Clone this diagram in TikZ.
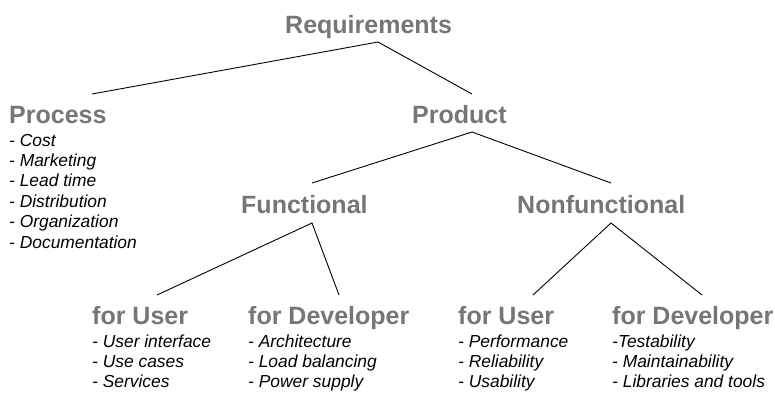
\documentclass[tikz,border=0pt]{standalone}
\usepackage{fontspec}
\setmainfont{Liberation Sans}
\definecolor{head}{HTML}{767676}
\tikzset{
  heading/.style={anchor=base west,inner sep=0pt,text=head,font=\fontsize{25}{30}\selectfont\bfseries},
  entry/.style={anchor=base west,inner sep=0pt,font=\fontsize{17.4}{20}\selectfont\itshape},
  branch/.style={draw=black,line width=0.9pt}
}
\begin{document}
\begin{tikzpicture}[x=1pt,y=-1pt]
  \useasboundingbox (0,0) rectangle (775,392);
  % headings
  \node[heading] (req) at (285,33) {Requirements};
  \node[heading] (proc) at (9,123) {Process};
  \node[heading] (prod) at (412,123) {Product};
  \node[heading] (func) at (241,213) {Functional};
  \node[heading] (nonf) at (517,213) {Nonfunctional};
  \node[heading] (fuU) at (92,324) {for User};
  \node[heading] (fuD) at (248,324) {for Developer};
  \node[heading] (nfU) at (458,324) {for User};
  \node[heading] (nfD) at (612,324) {for Developer};
  % item lists
  \foreach \t [count=\i] in {- Cost,- Marketing,- Lead time,- Distribution,- Organization,- Documentation}
    \node[entry] (proc-\i) at (9,{146+20.4*(\i-1)}) {\t};
  \foreach \t [count=\i] in {- User interface,- Use cases,- Services}
    \node[entry] (fuU-\i) at (92,{347+20*(\i-1)}) {\t};
  \foreach \t [count=\i] in {- Architecture,- Load balancing,- Power supply}
    \node[entry] (fuD-\i) at (248,{347+20*(\i-1)}) {\t};
  \foreach \t [count=\i] in {- Performance,- Reliability,- Usability}
    \node[entry] (nfU-\i) at (458,{347+20*(\i-1)}) {\t};
  \foreach \t [count=\i] in {-Testability,- Maintainability,- Libraries and tools}
    \node[entry] (nfD-\i) at (612,{347+20*(\i-1)}) {\t};
  % branch points
  \coordinate (reqJ) at (378,42);
  \coordinate (procT) at (92,94);
  \coordinate (prodT) at (472,94);
  \coordinate (prodJ) at (472,132);
  \coordinate (funcT) at (312,183);
  \coordinate (nonfT) at (611,183);
  \coordinate (funcJ) at (312,223);
  \coordinate (nonfJ) at (611,223);
  \coordinate (fuUT) at (157,295);
  \coordinate (fuDT) at (339,295);
  \coordinate (nfUT) at (533,295);
  \coordinate (nfDT) at (702,295);
  % tree
  \draw[branch] (procT) -- (reqJ) -- (prodT);
  \draw[branch] (funcT) -- (prodJ) -- (nonfT);
  \draw[branch] (fuUT) -- (funcJ) -- (fuDT);
  \draw[branch] (nfUT) -- (nonfJ) -- (nfDT);
\end{tikzpicture}
\end{document}
